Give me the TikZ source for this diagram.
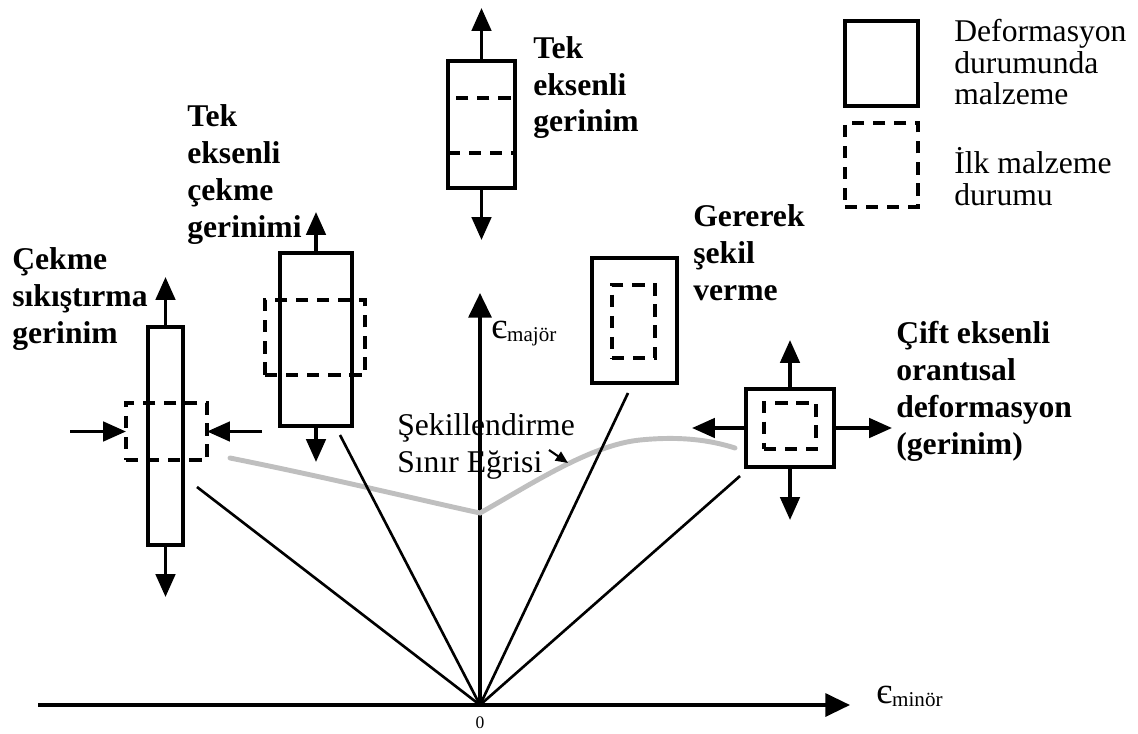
\documentclass[tikz,border=0pt]{standalone}
\usepackage{fontspec}
\setmainfont{Liberation Serif}
\usetikzlibrary{arrows.meta}

\begin{document}
\begin{tikzpicture}[x=0.02cm, y=-0.02cm,
  solidbox/.style 2 args={draw, line width=2pt, minimum width=#1*0.02cm,
    minimum height=#2*0.02cm, inner sep=0pt, outer sep=0pt},
  dashbox/.style 2 args={draw, line width=1.9pt, dash pattern=on 7pt off 5pt,
    minimum width=#1*0.02cm, minimum height=#2*0.02cm, inner sep=0pt, outer sep=0pt},
  push/.style={line width=2pt, -{Triangle[length=13pt, width=11pt]}},
  ray/.style={line width=1.5pt},
  axis/.style={line width=2pt, -{Triangle[length=14pt, width=13pt]}},
  title/.style={anchor=base west, align=left, inner sep=0pt,
    font=\bfseries\fontsize{18}{21}\selectfont},
  note/.style={anchor=base west, align=left, inner sep=0pt,
    font=\fontsize{18}{18}\selectfont}]
\useasboundingbox (0,0) rectangle (1138,733); % keep the page size

% axes
\coordinate (O) at (480,705);
\coordinate (xs) at (38,705);
\coordinate (xe) at (850,705);
\coordinate (ye) at (480,293);
\draw[axis] (xs) -- (xe);
\draw[axis] (O) -- (ye);
\node[inner sep=0pt, font=\fontsize{10}{10}\selectfont] (zero) at (480,723) {0};
\node[anchor=base west, inner sep=0pt] (emaj) at (491,338)
  {\fontsize{21}{21}\selectfont є\raisebox{-2pt}{\fontsize{12}{12}\selectfont majör}};
\node[anchor=base west, inner sep=0pt] (emin) at (876,703)
  {\fontsize{21}{21}\selectfont є\raisebox{-2pt}{\fontsize{12}{12}\selectfont minör}};

% forming limit curve
\draw[black!25, line width=2.8pt, line cap=round]
  (230,458) .. controls (330,478) and (420,500) .. (480,513)
            .. controls (530,485) and (590,445) .. (640,440)
            .. controls (680,436) and (710,440) .. (735,448);
\node[note, font=\fontsize{18}{21}\selectfont] (curvelab) at (397,472)
  {Şekillendirme\\Sınır Eğrisi};
\coordinate (sa) at (549,450);
\coordinate (sb) at (568,463);
\draw[line width=1.2pt, -{Triangle[length=7pt, width=6pt]}] (sa) -- (sb);

% strain paths
\coordinate (r1) at (197,487);
\coordinate (r2) at (340,435);
\coordinate (r3) at (628,393);
\coordinate (r4) at (740,476);
\foreach \r in {r1,r2,r3,r4}
  \draw[ray] (O) -- (\r);

% tension-compression
\node[solidbox={35}{218}] (bar1) at (165.5,436) {};
\node[dashbox={81}{57}] (dash1) at (166.5,431.5) {};
\coordinate (b1u) at (165.5,277);
\coordinate (b1d) at (165.5,597);
\coordinate (p1l) at (70,431.5);
\coordinate (p1r) at (262,431.5);
\draw[push] (bar1.north) -- (b1u);
\draw[push] (bar1.south) -- (b1d);
\draw[push] (p1l) -- (dash1.west);
\draw[push] (p1r) -- (dash1.east);
\node[title] (lab1) at (12,343) {Çekme\\sıkıştırma\\gerinim};

% uniaxial tension
\node[solidbox={72}{173}] (bar2) at (316,339.5) {};
\node[dashbox={100}{75}] (dash2) at (315,337.5) {};
\coordinate (b2u) at (316,212);
\coordinate (b2d) at (316,462);
\draw[push] (bar2.north) -- (b2u);
\draw[push] (bar2.south) -- (b2d);
\node[title] (lab2) at (187,237) {Tek\\eksenli\\çekme\\gerinimi};

% plane strain
\node[solidbox={67}{127}] (bar3) at (481.5,124.5) {};
\node[dashbox={67}{55}] (dash3) at (481.5,125.5) {};
\coordinate (b3u) at (481.5,8);
\coordinate (b3d) at (481.5,240);
\draw[push] (bar3.north) -- (b3u);
\draw[push] (bar3.south) -- (b3d);
\node[title] (lab3) at (533,132) {Tek\\eksenli\\gerinim};

% stretch forming
\node[solidbox={85}{125}] (box4) at (634.5,320.5) {};
\node[dashbox={43}{73}] (dash4) at (633.5,321.5) {};
\node[title] (lab4) at (693,300) {Gererek\\şekil\\verme};

% equibiaxial
\node[solidbox={88}{78}] (box5) at (790,428) {};
\node[dashbox={52}{46}] (dash5) at (790,426) {};
\coordinate (b5u) at (790,340);
\coordinate (b5d) at (790,520);
\coordinate (b5l) at (692,428);
\coordinate (b5r) at (892,428);
\draw[push] (box5.north) -- (b5u);
\draw[push] (box5.south) -- (b5d);
\draw[push] (box5.west) -- (b5l);
\draw[push] (box5.east) -- (b5r);
\node[title] (lab5) at (896,454) {Çift eksenli\\orantısal\\deformasyon\\(gerinim)};

% legend
\node[solidbox={73}{85}] (legsolid) at (881.5,63.5) {};
\node[dashbox={73}{84}] (legdash) at (881.5,165) {};
\node[note] (leg1) at (954,105) {Deformasyon\\durumunda\\malzeme};
\node[note] (leg2) at (954,205) {İlk malzeme\\durumu};
\end{tikzpicture}
\end{document}
